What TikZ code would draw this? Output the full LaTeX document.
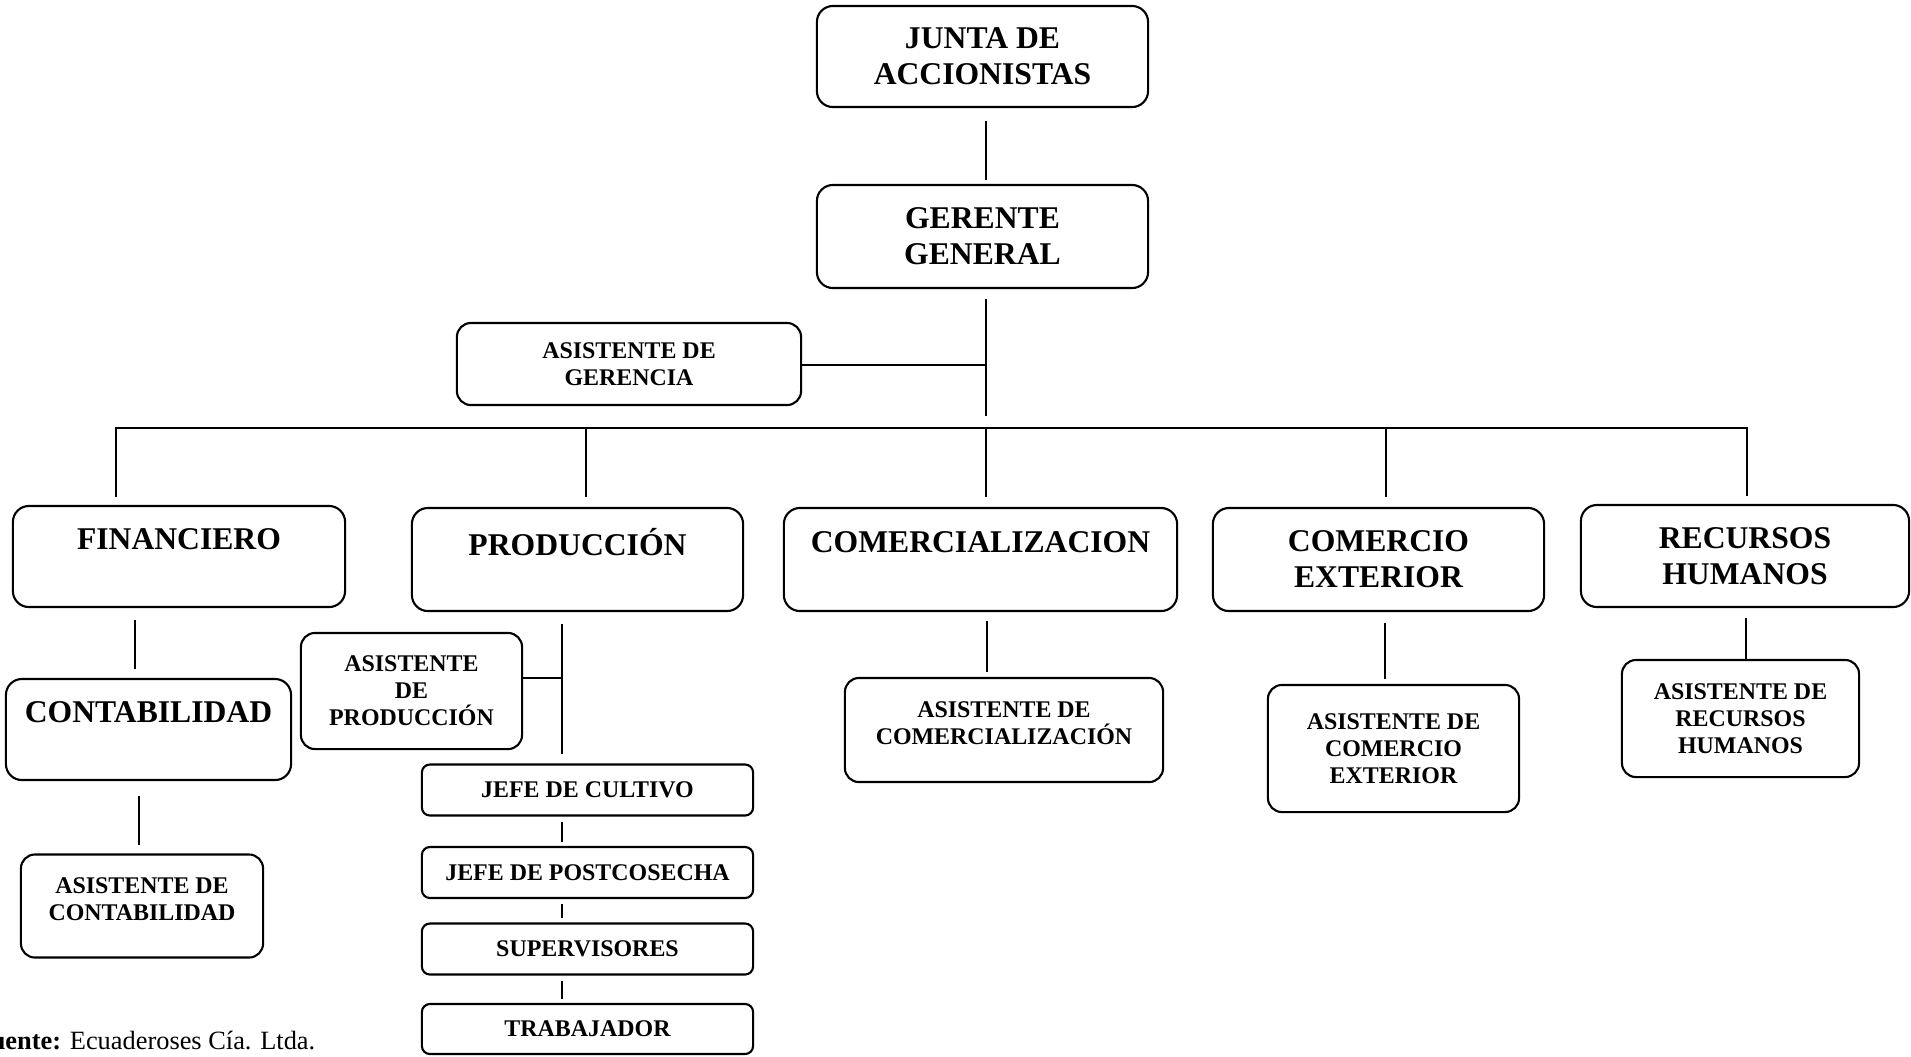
\documentclass[tikz,border=0pt]{standalone}
\usepackage{fontspec}
\setmainfont{Liberation Serif}
\usetikzlibrary{positioning}

\begin{document}
\begin{tikzpicture}[x=0.01cm, y=-0.01cm,
    orgbox/.style={draw, line width=0.6pt, rounded corners=1.6mm, align=center, inner sep=0pt,
      font=\bfseries\fontsize{9}{10.2}\selectfont},
    smallbox/.style={orgbox, rounded corners=1.4mm, font=\bfseries\fontsize{6.8}{7.7}\selectfont},
    chainbox/.style={smallbox, rounded corners=0.8mm, minimum width=3.31cm, minimum height=0.51cm},
    link/.style={line width=0.5pt, shorten <=1mm, shorten >=0.7mm}]

    \useasboundingbox (0,0) rectangle (1911,1056);

    % Top of the chart
    \node[orgbox, minimum width=3.31cm, minimum height=1.01cm] (junta) at (982.5,56.5) {JUNTA DE\\ACCIONISTAS};
    \node[orgbox, minimum width=3.31cm, minimum height=1.03cm] (gerente) at (982.5,236.5) {GERENTE\\GENERAL};
    \node[smallbox, minimum width=3.44cm, minimum height=0.82cm] (asisger) at (629,364) {ASISTENTE DE\\GERENCIA};

    \coordinate (gv) at (986,365);
    \coordinate (gbot) at (986,416);

    \draw[link, shorten <=1.3mm, shorten >=0.4mm] (junta.south -| gv) -- (gerente.north -| gv);
    \draw[link, shorten >=0pt] (gerente.south -| gv) -- (gbot);
    \draw[link, shorten <=0pt, shorten >=0pt] (asisger.east |- gv) -- (gv);

    % Departments
    \node[orgbox, minimum width=3.32cm, minimum height=1.01cm] (fin) at (179,556.5) {FINANCIERO\\~};
    \node[orgbox, minimum width=3.31cm, minimum height=1.03cm] (prod) at (577.5,559.5) {PRODUCCIÓN\\~};
    \node[orgbox, minimum width=3.93cm, minimum height=1.03cm] (comer) at (980.5,559.5) {COMERCIALIZACION\\~};
    \node[orgbox, minimum width=3.31cm, minimum height=1.03cm] (comext) at (1378.5,559.5) {COMERCIO\\EXTERIOR};
    \node[orgbox, minimum width=3.28cm, minimum height=1.02cm] (rrhh) at (1745,556) {RECURSOS\\HUMANOS};

    \coordinate (busL) at (116,428);
    \coordinate (busR) at (1747,428);

    \draw[link, shorten <=0.8mm, shorten >=0.8mm] (fin.north -| busL) -- (busL) -- (busR) -- (rrhh.north -| busR);
    \foreach \n/\x in {prod/586, comer/986, comext/1386}
        \draw[link, shorten <=0pt, shorten >=1mm] (busL -| \x,0) -- (\n.north -| \x,0);

    % Financiero
    \node[orgbox, minimum width=2.85cm, minimum height=1.01cm] (conta) at (148.5,729.5) {CONTABILIDAD\\~};
    \node[smallbox, minimum width=2.42cm, minimum height=1.03cm] (asiscon) at (142,906) {ASISTENTE DE\\CONTABILIDAD\\[-4pt]~};

    \draw[link, shorten <=1.2mm, shorten >=0.9mm] (fin.south -| 135,0) -- (conta.north -| 135,0);
    \draw[link, shorten <=1.5mm, shorten >=0.8mm] (conta.south -| 139,0) -- (asiscon.north -| 139,0);

    % Produccion
    \node[smallbox, minimum width=2.21cm, minimum height=1.16cm] (asisprod) at (411.5,691) {ASISTENTE\\DE\\PRODUCCIÓN};
    \node[chainbox] (cultivo) at (587.5,790) {JEFE DE CULTIVO};
    \node[chainbox] (postco) at (587.5,872.5) {JEFE DE POSTCOSECHA};
    \node[chainbox] (super) at (587.5,949) {SUPERVISORES};
    \node[chainbox, minimum height=0.50cm] (trabaj) at (587.5,1029) {TRABAJADOR};

    \coordinate (pv) at (562,678);

    \draw[link, shorten <=1.2mm, shorten >=0.9mm] (prod.south -| pv) -- (cultivo.north -| pv);
    \draw[link, shorten <=0pt, shorten >=0pt] (asisprod.east |- pv) -- (pv);
    \foreach \a/\b in {cultivo/postco, postco/super, super/trabaj}
        \draw[link, shorten <=0.5mm, shorten >=0.4mm] (\a.south -| pv) -- (\b.north -| pv);

    % Comercializacion, comercio exterior, recursos humanos
    \node[smallbox, minimum width=3.18cm, minimum height=1.04cm] (asiscom) at (1004,730) {ASISTENTE DE\\COMERCIALIZACIÓN\\[-4pt]~};
    \node[smallbox, minimum width=2.51cm, minimum height=1.27cm] (asisext) at (1393.5,748.5) {ASISTENTE DE\\COMERCIO\\EXTERIOR};
    \node[smallbox, minimum width=2.37cm, minimum height=1.17cm] (asisrh) at (1740.5,718.5) {ASISTENTE DE\\RECURSOS\\HUMANOS};

    \draw[link, shorten <=0.9mm, shorten >=0.5mm] (comer.south -| 987,0) -- (asiscom.north -| 987,0);
    \draw[link, shorten <=1.1mm, shorten >=0.5mm] (comext.south -| 1385,0) -- (asisext.north -| 1385,0);
    \draw[link, shorten <=1mm, shorten >=0pt] (rrhh.south -| 1746,0) -- (asisrh.north -| 1746,0);

    % Source line
    \node[anchor=base west, inner sep=0pt, font=\fontsize{7.5}{9}\selectfont] (fuente) at (-26,1049) {\textbf{Fuente:} Ecuaderoses Cía. Ltda.};

\end{tikzpicture}
\end{document}
